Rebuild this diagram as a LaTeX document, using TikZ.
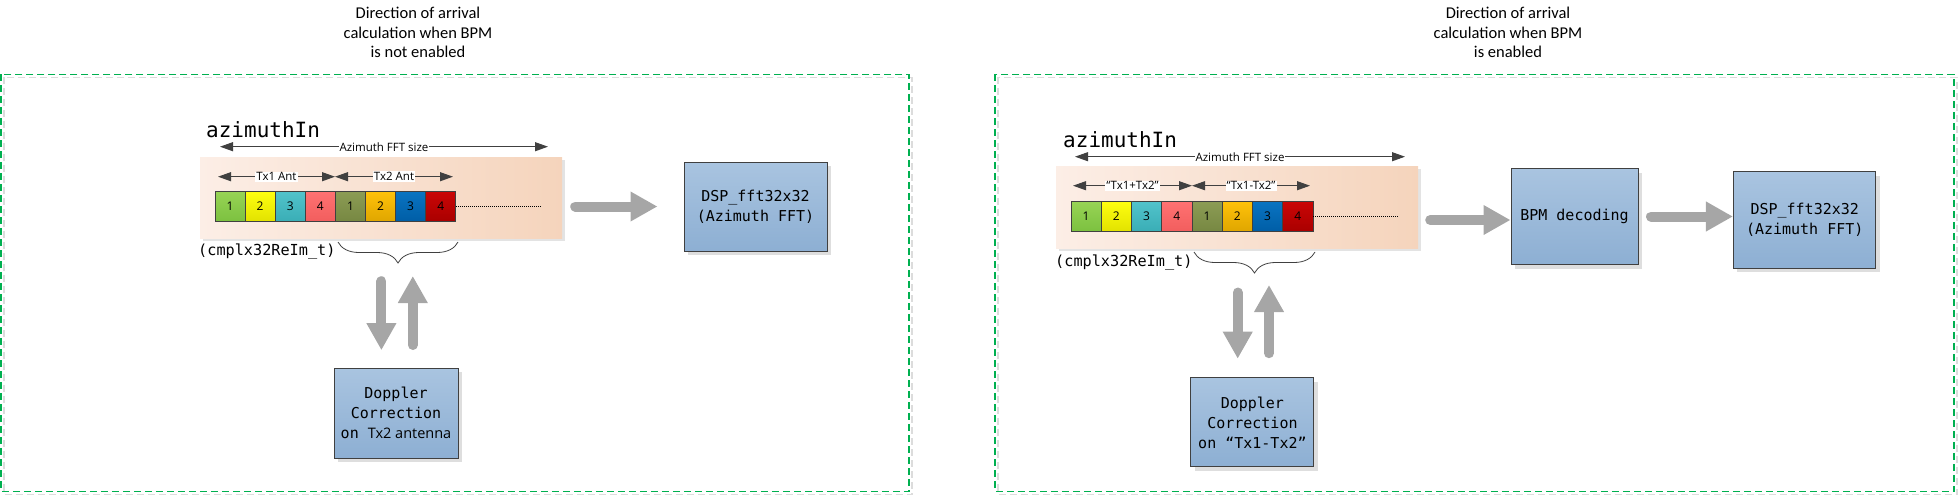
\documentclass[tikz,border=0pt]{standalone}
\usepackage{fontspec}
\setmainfont{Carlito}
\setmonofont{DejaVu Sans Mono}
\newfontfamily\osans{Open Sans}
\usetikzlibrary{arrows.meta,decorations.pathreplacing,shadows}
\definecolor{boxTop}{HTML}{A9C4E0}
\definecolor{boxBot}{HTML}{8DAFD3}
\definecolor{boxLine}{HTML}{404040}
\definecolor{peachLt}{HTML}{FCEEE6}
\definecolor{peachDk}{HTML}{F5D4BC}
\definecolor{arrGray}{HTML}{A6A6A6}
\definecolor{dimGray}{HTML}{404040}
\definecolor{frameGreen}{HTML}{00B050}
\definecolor{frameShadow}{HTML}{DCDCDC}
\definecolor{cAt}{HTML}{98D455}\definecolor{cAb}{HTML}{7CC140}
\definecolor{cBt}{HTML}{FFFF10}\definecolor{cBb}{HTML}{E2E200}
\definecolor{cCt}{HTML}{52C3CB}\definecolor{cCb}{HTML}{3AAEB6}
\definecolor{cDt}{HTML}{FF7272}\definecolor{cDb}{HTML}{F25E5E}
\definecolor{cEt}{HTML}{8C9C55}\definecolor{cEb}{HTML}{778842}
\definecolor{cFt}{HTML}{FFC20A}\definecolor{cFb}{HTML}{E0A600}
\definecolor{cGt}{HTML}{0A74C2}\definecolor{cGb}{HTML}{005EA6}
\definecolor{cHt}{HTML}{CA0606}\definecolor{cHb}{HTML}{AA0000}
\begin{document}
\begin{tikzpicture}[x=1pt,y=-1pt,
  blockbox/.style={draw=boxLine, line width=1pt, top color=boxTop, bottom color=boxBot,
    inner sep=0pt, align=center, font=\ttfamily\fontsize{15}{20}\selectfont,
    drop shadow={shadow xshift=4pt, shadow yshift=-4pt, fill=black!13, opacity=1}},
  peachbox/.style={left color=peachLt, right color=peachDk, draw=none, inner sep=0pt,
    drop shadow={shadow xshift=3pt, shadow yshift=-3pt, fill=black!11, opacity=1}},
  cellbox/.style={draw=boxLine, line width=0.9pt, minimum width=30.1pt, minimum height=30pt,
    inner sep=0pt, font=\osans\fontsize{12}{14}\selectfont},
  dimarrow/.style={draw=dimGray, line width=1pt,
    arrows={Triangle[length=13pt,width=9pt]-Triangle[length=13pt,width=9pt]}},
  dimlabel/.style={fill=white, inner xsep=1pt, inner ysep=1pt,
    font=\osans\fontsize{11.5}{13}\selectfont, text=black},
  bigarrow/.style={draw=arrGray, line width=10pt, line cap=round,
    arrows={-Triangle[length=27pt,width=28pt]}},
  titletext/.style={align=center, font=\fontsize{16.5}{19.5}\selectfont},
  monolabel/.style={inner sep=0pt, anchor=west},
  framebox/.style={draw=frameGreen, line width=1.3pt, dash pattern=on 7pt off 4pt},
  frameshade/.style={draw=frameShadow, line width=1.3pt, dash pattern=on 7pt off 4pt},
  bracestyle/.style={draw=dimGray, line width=0.8pt, decorate,
    decoration={brace, mirror, amplitude=21pt}},
  dotline/.style={draw=black, line width=0.7pt, dash pattern=on 1pt off 1pt}
]
\useasboundingbox (0,0) rectangle (1958,498);

% ---------- frames ----------
\draw[frameshade] (4,77.3) rectangle (912,494.5);
\draw[framebox] (1,74.3) rectangle (909,491.5);
\draw[frameshade] (998,77.3) rectangle (1957,494.5);
\draw[framebox] (995,74.3) rectangle (1954,491.5);

% ---------- titles ----------
\node[titletext] (titleL) at (418,32.5) {Direction of arrival\\calculation when BPM\\is not enabled};
\node[titletext] (titleR) at (1508,32.5) {Direction of arrival\\calculation when BPM\\is enabled};

% =========== LEFT ===========
\node[peachbox, minimum width=362pt, minimum height=81pt] (peachL) at (381,197.5) {};
\node[monolabel, anchor=base west, font=\ttfamily\fontsize{21}{24}\selectfont] (azL) at (206,137) {azimuthIn};
\coordinate (fftLa) at (220,146.7);
\coordinate (fftLb) at (548,146.7);
\draw[dimarrow] (fftLa) -- node[dimlabel] (fftLlab) {Azimuth FFT size} (fftLb);

\foreach \i/\ct/\cb in {1/cAt/cAb,2/cBt/cBb,3/cCt/cCb,4/cDt/cDb,5/cEt/cEb,6/cFt/cFb,7/cGt/cGb,8/cHt/cHb}{
  \pgfmathtruncatemacro\n{mod(\i-1,4)+1}
  \node[cellbox, top color=\ct, bottom color=\cb] (L\i) at ({215+30.1*(\i-0.5)},206) {\n};
}
\coordinate (txLa) at (218,176.7);
\coordinate (txLm) at (335,176.7);
\coordinate (txLb) at (453,176.7);
\draw[dimarrow] (txLa) -- node[dimlabel] (tx1L) {Tx1 Ant} (txLm);
\draw[dimarrow] (txLm) -- node[dimlabel] (tx2L) {Tx2 Ant} (txLb);
\coordinate (dotL) at (541.7,206);
\draw[dotline] (L8.east) -- (dotL);

\node[monolabel, font=\ttfamily\fontsize{15.2}{18}\selectfont] (cmL) at (198,251.7) {(cmplx32ReIm\_t)};
\coordinate (brLa) at (338,242);
\coordinate (brLb) at (458,242);
\coordinate (brLtip) at (398,263);
\draw[bracestyle] (brLa) -- (brLb);

\node[blockbox, minimum width=124pt, minimum height=90pt] (dopL) at (396,413)
  {Doppler\\Correction\\on\ {\osans\fontsize{14.5}{20}\selectfont Tx2 antenna}};
\coordinate (dnL) at ([xshift=-14.6pt]dopL.north);
\coordinate (upL) at ([xshift=16.8pt]dopL.north);
\draw[bigarrow, shorten <=18.2pt, shorten >=17.3pt] (dnL |- brLtip) -- (dnL);
\draw[bigarrow, shorten <=22.5pt, shorten >=13pt] (upL) -- (upL |- brLtip);

\node[blockbox, minimum width=143pt, minimum height=89pt] (dspL) at (755.5,206.5)
  {DSP\_fft32x32\\(Azimuth FFT)};
\draw[bigarrow, shorten <=13pt, shorten >=26pt] (peachL.east |- dspL.west) -- (dspL.west);

% =========== RIGHT ===========
\node[peachbox, minimum width=362pt, minimum height=82pt] (peachR) at (1237,207) {};
\node[monolabel, anchor=base west, font=\ttfamily\fontsize{21}{24}\selectfont] (azR) at (1063,147) {azimuthIn};
\coordinate (fftRa) at (1075,156.7);
\coordinate (fftRb) at (1405,156.7);
\draw[dimarrow] (fftRa) -- node[dimlabel] (fftRlab) {Azimuth FFT size} (fftRb);

\foreach \i/\ct/\cb in {1/cAt/cAb,2/cBt/cBb,3/cCt/cCb,4/cDt/cDb,5/cEt/cEb,6/cFt/cFb,7/cGt/cGb,8/cHt/cHb}{
  \pgfmathtruncatemacro\n{mod(\i-1,4)+1}
  \node[cellbox, minimum width=30.25pt, top color=\ct, bottom color=\cb] (R\i) at ({1071+30.25*(\i-0.5)},216) {\n};
}
\coordinate (txRa) at (1073,185.7);
\coordinate (txRm) at (1192,185.7);
\coordinate (txRb) at (1310,185.7);
\draw[dimarrow] (txRa) -- node[dimlabel] (tx1R) {“Tx1+Tx2”} (txRm);
\draw[dimarrow] (txRm) -- node[dimlabel] (tx2R) {“Tx1-Tx2”} (txRb);
\coordinate (dotR) at (1398,216);
\draw[dotline] (R8.east) -- (dotR);

\node[monolabel, font=\ttfamily\fontsize{15.2}{18}\selectfont] (cmR) at (1055,262.7) {(cmplx32ReIm\_t)};
\coordinate (brRa) at (1194,252);
\coordinate (brRb) at (1315,252);
\coordinate (brRtip) at (1254.5,273);
\draw[bracestyle] (brRa) -- (brRb);

\node[blockbox, minimum width=123pt, minimum height=89pt] (dopR) at (1252.4,422.4)
  {Doppler\\Correction\\on “Tx1-Tx2”};
\coordinate (dnR) at ([xshift=-14.7pt]dopR.north);
\coordinate (upR) at ([xshift=16.6pt]dopR.north);
\draw[bigarrow, shorten <=19.5pt, shorten >=18.7pt] (dnR |- brRtip) -- (dnR);
\draw[bigarrow, shorten <=24.2pt, shorten >=12pt] (upR) -- (upR |- brRtip);

\node[blockbox, minimum width=127pt, minimum height=96pt] (bpm) at (1574.5,216.5) {BPM decoding};
\node[blockbox, minimum width=142.5pt, minimum height=96.5pt] (dspR) at (1804.7,220.2)
  {DSP\_fft32x32\\(Azimuth FFT)};
\coordinate (bpmIn) at ([yshift=-3.5pt]bpm.west);
\draw[bigarrow, shorten <=12pt] (peachR.east |- bpmIn) -- (bpmIn);
\draw[bigarrow, shorten <=12.5pt] (bpm.east) -- (dspR.west |- bpm.east);
\end{tikzpicture}
\end{document}
